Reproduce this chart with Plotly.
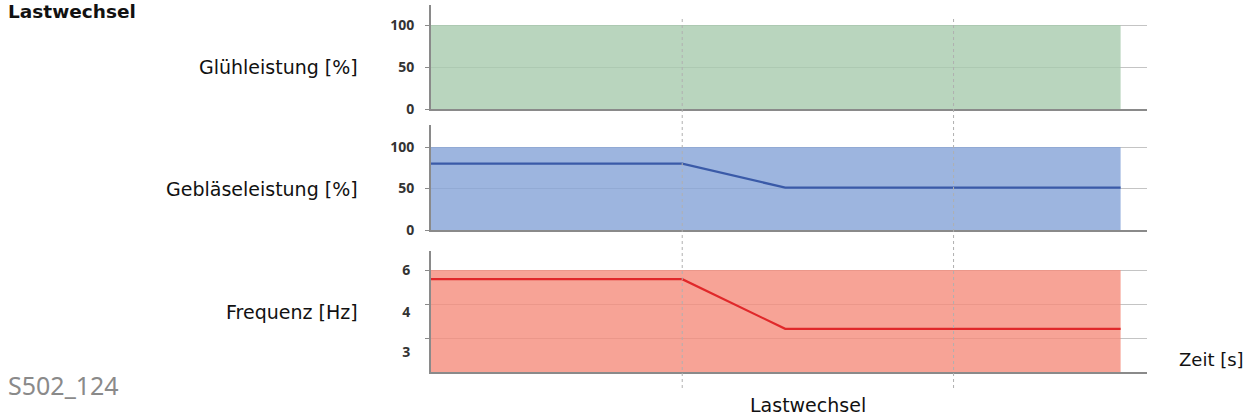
import plotly.graph_objects as go

# ---- data ----
time_pts = [0, 10, 14.1, 27.45]          # time axis points (s)
gluh_level = [100, 100, 100, 100]        # Glühleistung [%]
geblaese = [80, 80, 51, 51]              # Gebläseleistung [%]
geblaese_max = [100, 100, 100, 100]
frequenz = [5.73, 5.73, 4.27, 4.27]      # Frequenz [Hz]
frequenz_max = [6, 6, 6, 6]
marker_times = [10, 20.8]                # dotted vertical markers
x_range = [0, 28.5]

pct_ticks = [0, 50, 100]
pct_ticktext = ["0", "50", "100"]
freq_grid = [4, 5, 6]
freq_label_pos = [3.59, 4.76, 6]
freq_ticktext = ["3", "4", "6"]

panel_labels = ["Glühleistung [%]", "Gebläseleistung [%]", "Frequenz [Hz]"]

GREEN = "rgba(167,203,174,0.8)"
BLUE = "rgba(136,165,216,0.82)"
RED = "rgba(245,140,124,0.8)"
AXIS = "#8a8a8a"
GRID = "#c4c4c4"

fig = go.Figure()

# panel 1 (top)
fig.add_trace(go.Scatter(x=time_pts, y=gluh_level, fill="tozeroy", fillcolor=GREEN,
                         line=dict(width=0), mode="lines", xaxis="x", yaxis="y",
                         hoverinfo="skip"))
# panel 2
fig.add_trace(go.Scatter(x=time_pts, y=geblaese_max, fill="tozeroy", fillcolor=BLUE,
                         line=dict(width=0), mode="lines", xaxis="x2", yaxis="y2",
                         hoverinfo="skip"))
fig.add_trace(go.Scatter(x=time_pts, y=geblaese, mode="lines",
                         line=dict(color="#3a5aa8", width=2.2), xaxis="x2", yaxis="y2"))
# panel 3
fig.add_trace(go.Scatter(x=time_pts, y=frequenz_max, fill="tozeroy", fillcolor=RED,
                         line=dict(width=0), mode="lines", xaxis="x3", yaxis="y3",
                         hoverinfo="skip"))
fig.add_trace(go.Scatter(x=time_pts, y=frequenz, mode="lines",
                         line=dict(color="#e0282a", width=2.2), xaxis="x3", yaxis="y3"))

tickfont = dict(family="Open Sans", size=14, color="#333333", weight=700)

xcommon = dict(range=x_range, showgrid=False, zeroline=False, showticklabels=False,
               showline=True, linecolor=AXIS, linewidth=2, ticks="", fixedrange=True)
pct_common = dict(tickmode="array", tickvals=pct_ticks, ticktext=pct_ticktext,
                  showgrid=True, gridcolor=GRID, gridwidth=1, zeroline=False,
                  showline=True, linecolor=AXIS, linewidth=2, ticks="outside",
                  ticklen=4, tickcolor=AXIS, tickfont=tickfont, ticklabelstandoff=8)

fig.update_layout(
    width=1246, height=419,
    margin=dict(l=431, r=99, t=5, b=47),
    paper_bgcolor="white", plot_bgcolor="white",
    showlegend=False,
    xaxis=dict(**xcommon, domain=[0, 1], anchor="y"),
    xaxis2=dict(**xcommon, domain=[0, 1], anchor="y2", matches="x"),
    xaxis3=dict(**xcommon, domain=[0, 1], anchor="y3", matches="x"),
    yaxis=dict(**pct_common, domain=[0.7166, 1.0], range=[0, 123.8], anchor="x"),
    yaxis2=dict(**pct_common, domain=[0.3869, 0.6730], range=[0, 126.5], anchor="x2"),
    yaxis3=dict(domain=[0, 0.3297], range=[3, 6.56], anchor="x3",
                tickmode="array", tickvals=freq_label_pos, ticktext=freq_ticktext,
                ticks="", showgrid=False, zeroline=False,
                showline=True, linecolor=AXIS, linewidth=2,
                tickfont=tickfont, ticklabelstandoff=16,
                minor=dict(tickmode="array", tickvals=freq_grid, ticks="outside",
                           ticklen=4, tickcolor=AXIS, showgrid=True,
                           gridcolor=GRID, gridwidth=1)),
)

# dotted vertical markers
for t in marker_times:
    fig.add_shape(type="line", xref="x", yref="paper", x0=t, x1=t,
                  y0=-0.0436, y1=0.967,
                  line=dict(color="#b0b0b0", width=1, dash="dot"), layer="above")

label_font = dict(family="DejaVu Sans", size=19, color="#111111")
label_y = [(panel_labels[0], "y", 50), (panel_labels[1], "y2", 50),
           (panel_labels[2], "y3", freq_label_pos[1])]
for txt, yref, yv in label_y:
    fig.add_annotation(text=txt, xref="paper", yref=yref, x=-0.0992, y=yv,
                       xanchor="right", yanchor="middle", showarrow=False,
                       font=label_font)

fig.add_annotation(text="<b>Lastwechsel</b>", xref="paper", yref="paper",
                   x=-0.5935, y=0.981, xanchor="left", yanchor="middle",
                   showarrow=False, font=dict(family="DejaVu Sans", size=18.5, color="#111111"))
fig.add_annotation(text="S502_124", xref="paper", yref="paper",
                   x=-0.5935, y=-0.0354, xanchor="left", yanchor="middle",
                   showarrow=False, font=dict(family="Noto Sans", size=25, color="#8a8a8a"))
fig.add_annotation(text="Lastwechsel", xref="paper", yref="paper",
                   x=0.5265, y=-0.0899, xanchor="center", yanchor="middle",
                   showarrow=False, font=label_font)
fig.add_annotation(text="Zeit [s]", xref="paper", yref="paper",
                   x=1.0419, y=0.0327, xanchor="left", yanchor="middle",
                   showarrow=False, font=dict(family="DejaVu Sans", size=18, color="#111111"))

fig.write_html("out.html", config={"displayModeBar": False},
               post_script="document.body.style.margin='0px';")
